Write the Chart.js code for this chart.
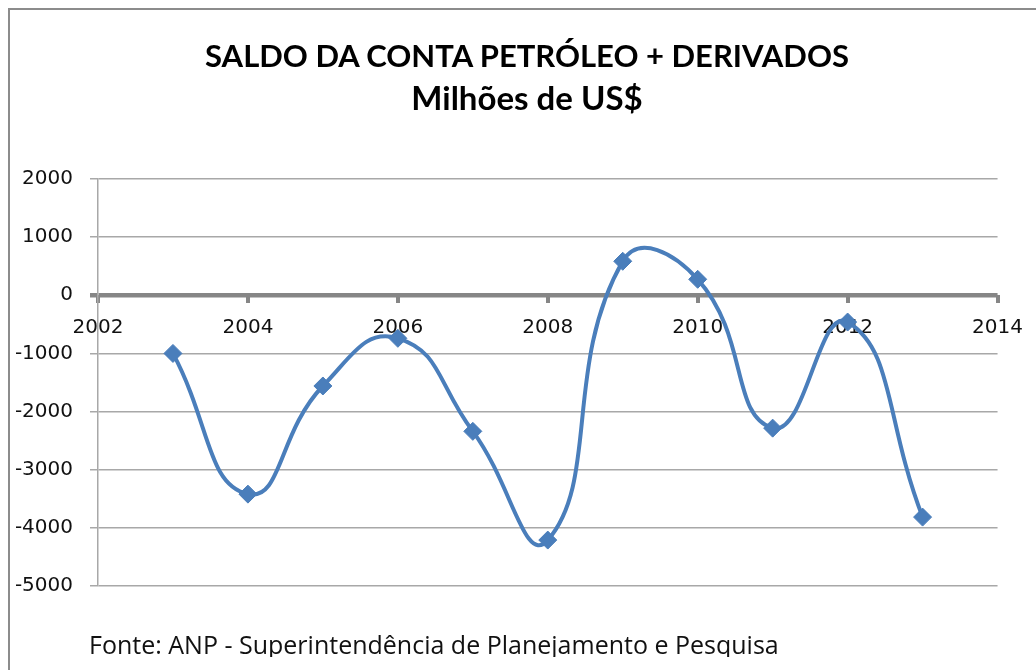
<!DOCTYPE html>
<html>
<head>
<meta charset="utf-8">
<script src="https://cdn.jsdelivr.net/npm/chart.js@4.4.1/dist/chart.umd.min.js"></script>
<style>
html,body{margin:0;padding:0;background:#fff;}
#wrap{position:relative;width:1036px;height:670px;overflow:hidden;}
#title{position:absolute;left:18px;width:1018px;top:34px;text-align:center;font-family:'Lato',sans-serif;
  font-weight:bold;color:#000;line-height:42px;white-space:nowrap;}
#title .l1{font-size:31px;}
#title .l2{font-size:33px;}
#footer{position:absolute;left:89px;top:632px;height:25px;overflow:hidden;white-space:nowrap;
  font-family:'Open Sans',sans-serif;font-size:25px;line-height:25px;color:#111;}
</style>
</head>
<body>
<div id="wrap"><canvas id="c" width="1036" height="670"></canvas>
<div id="title"><div class="l1"></div><div class="l2"></div></div>
<div id="footer"></div></div>
<script>
const titleLines = ['SALDO DA CONTA PETRÓLEO + DERIVADOS', 'Milhões de US$'];
const footerText = 'Fonte: ANP - Superintendência de Planejamento e Pesquisa';
const years = [2003, 2004, 2005, 2006, 2007, 2008, 2009, 2010, 2011, 2012, 2013];
const saldo = [-1000, -3420, -1560, -740, -2340, -4210, 585, 275, -2285, -460, -3815];
const xTicksRange = [2002, 2014, 2];
const yTicksRange = [-5000, 2000, 1000];

document.querySelector('#title .l1').textContent = titleLines[0];
document.querySelector('#title .l2').textContent = titleLines[1];
document.getElementById('footer').textContent = footerText;
const points = years.map((y, i) => ({x: y, y: saldo[i]}));

const framePlugin = {
  id: 'frame',
  beforeDraw(chart) {
    const ctx = chart.ctx;
    ctx.save();
    ctx.fillStyle = '#fff';
    ctx.fillRect(0, 0, chart.width, chart.height);
    ctx.strokeStyle = '#8c8c8c';
    ctx.lineWidth = 2;
    ctx.beginPath();
    ctx.moveTo(9, chart.height);
    ctx.lineTo(9, 9);
    ctx.lineTo(chart.width, 9);
    ctx.stroke();
    ctx.restore();
  }
};

new Chart(document.getElementById('c'), {
  type: 'line',
  data: {
    datasets: [{
      data: points,
      borderColor: '#4a7ebb',
      backgroundColor: '#4a7ebb',
      borderWidth: 4,
      tension: 0.5,
      pointStyle: 'rectRot',
      pointRadius: 9,
      pointHoverRadius: 9,
      pointBorderWidth: 1,
      pointBorderColor: '#4a7ebb',
      pointBackgroundColor: '#4a7ebb',
      fill: false
    }]
  },
  options: {
    responsive: false,
    animation: false,
    events: [],
    layout: { padding: { left: 0, right: 36, top: 179, bottom: 84 } },
    plugins: {
      legend: { display: false },
      tooltip: { enabled: false },
      title: { display: false }
    },
    scales: {
      x: {
        type: 'linear',
        position: { y: 0 },
        min: xTicksRange[0],
        max: xTicksRange[1],
        ticks: { stepSize: xTicksRange[2], color: '#111', font: { family: 'DejaVu Sans', size: 20 }, padding: 13, maxRotation: 0,
                 callback: v => String(v) },
        grid: { drawOnChartArea: false, drawTicks: true, tickLength: 8, lineWidth: 4, color: '#868686' },
        border: { display: false }
      },
      y: {
        min: yTicksRange[0],
        max: yTicksRange[1],
        afterFit(s) { s.width = 98; },
        ticks: { stepSize: yTicksRange[2], color: '#111', font: { family: 'DejaVu Sans', size: 20 }, padding: 17,
                 callback: v => String(v) },
        grid: {
          tickLength: 8,
          lineWidth: c => (c.tick && c.tick.value === 0) ? 4.5 : 1.5,
          color: c => (c.tick && c.tick.value === 0) ? '#868686' : '#a8a8a8'
        },
        border: { display: true, color: '#a8a8a8', width: 1.5 }
      }
    }
  },
  plugins: [framePlugin]
});
</script>
</body>
</html>
